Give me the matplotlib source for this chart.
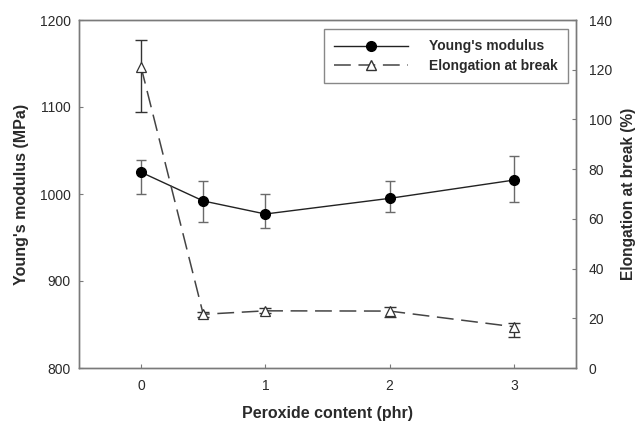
import matplotlib
matplotlib.use("Agg")
import matplotlib.pyplot as plt
from matplotlib.lines import Line2D

plt.rcParams['font.family'] = ['Liberation Sans', 'DejaVu Sans']

# Peroxide content (phr)
peroxide = [0, 0.5, 1, 2, 3]

# Young's modulus (MPa) with lower / upper error
modulus = [1025, 992, 977, 995, 1016]
modulus_err_lo = [25, 24, 16, 16, 25]
modulus_err_hi = [14, 23, 23, 20, 28]

# Elongation at break (%) with lower / upper error
elongation = [121, 21.6, 23.0, 22.9, 16.6]
elong_err_lo = [18, 1.0, 1.0, 2.5, 4.0]
elong_err_hi = [11, 1.0, 1.0, 1.8, 1.4]

x_ticks = [0, 1, 2, 3]
y_left_ticks = [800, 900, 1000, 1100, 1200]
y_right_ticks = [0, 20, 40, 60, 80, 100, 120, 140]

fig = plt.figure(figsize=(6.4, 4.22), dpi=100)
ax = fig.add_axes([79 / 640, 1 - 368 / 422, (576 - 79) / 640, (368 - 20) / 422])
ax2 = ax.twinx()

spine_col = '#7a7a7a'
text_col = '#2a2a2a'

# Young's modulus: solid line with filled circles
ax.errorbar(peroxide, modulus, yerr=[modulus_err_lo, modulus_err_hi],
            fmt='none', ecolor='#6a6a6a', elinewidth=1.0, capsize=3.5,
            capthick=1.0, zorder=2)
ax.plot(peroxide, modulus, '-', color='#222222', lw=1.0, marker='o',
        markersize=7, markerfacecolor='black', markeredgecolor='black',
        zorder=3)

# Elongation at break: dashed line with open triangles
ax2.errorbar(peroxide, elongation, yerr=[elong_err_lo, elong_err_hi],
             fmt='none', ecolor='#333333', elinewidth=1.0, capsize=4,
             capthick=1.0, zorder=2)
ax2.plot(peroxide, elongation, color='#444444', lw=1.1, dashes=(11, 5),
         marker='^', markersize=6.5, markerfacecolor='white',
         markeredgecolor='#333333', markeredgewidth=0.9, zorder=3)

ax.set_xlim(-0.5, 3.5)
ax.set_ylim(800, 1200)
ax2.set_ylim(0, 140)
ax.set_xticks(x_ticks)
ax.set_yticks(y_left_ticks)
ax2.set_yticks(y_right_ticks)

for a in (ax, ax2):
    for s in a.spines.values():
        s.set_color(spine_col)
        s.set_linewidth(1.0)
    a.tick_params(direction='in', length=3, color=spine_col,
                  labelsize=10, labelcolor=text_col)
ax.tick_params(axis='y', pad=6)
ax2.tick_params(axis='y', pad=9)
ax.tick_params(axis='x', pad=8)

ax.set_xlabel('Peroxide content (phr)', fontsize=11.5, fontweight='bold',
              color=text_col, labelpad=9)
ax.set_ylabel("Young's modulus (MPa)", fontsize=11.5, fontweight='bold',
              color=text_col, labelpad=8)
ax2.set_ylabel('Elongation at break (%)', fontsize=11.2, fontweight='bold',
               color=text_col, labelpad=7)

handles = [
    Line2D([], [], color='#222222', lw=1.0, marker='o', markersize=7,
           markerfacecolor='black', markeredgecolor='black'),
    Line2D([], [], color='#444444', lw=1.1, dashes=(11, 5), marker='^',
           markersize=6.5, markerfacecolor='white',
           markeredgecolor='#333333'),
]
leg = ax2.legend(handles, ["Young's modulus", 'Elongation at break'],
                 loc='upper right', bbox_to_anchor=(0.984, 0.974),
                 borderaxespad=0, fancybox=False, framealpha=1,
                 edgecolor='#888888', handlelength=5.3, handletextpad=1.5,
                 borderpad=0.75, labelspacing=0.4,
                 prop={'weight': 'bold', 'size': 10})
leg.get_frame().set_linewidth(1.0)
for t in leg.get_texts():
    t.set_color(text_col)

fig.savefig('out.png', dpi=100)
